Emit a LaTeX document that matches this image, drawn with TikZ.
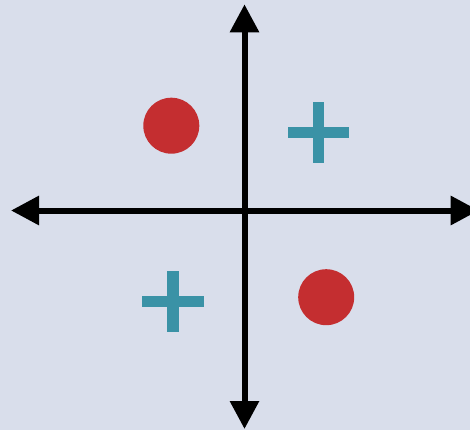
\documentclass[tikz,border=0pt]{standalone}
\usetikzlibrary{arrows.meta}
\definecolor{bgc}{RGB}{217,222,235}
\definecolor{redc}{RGB}{196,46,48}
\definecolor{tealc}{RGB}{58,146,166}
\tikzset{
  axis/.style={line width=6pt, {Triangle[length=28pt,width=28pt]}-{Triangle[length=28pt,width=28pt]}},
  dot/.style={circle, fill=redc, minimum size=56pt, inner sep=0pt, draw=none},
  bar/.style={fill=tealc, draw=none}
}
\newcommand{\plussign}[2]{%
  \fill[bar] (#1-30.8,#2-5.8) rectangle (#1+30.8,#2+5.8);
  \fill[bar] (#1-5.8,#2-30.8) rectangle (#1+5.8,#2+30.8);}
\begin{document}
\begin{tikzpicture}[x=1pt,y=-1pt]
\fill[bgc] (0,0) rectangle (470,430);
\useasboundingbox (0,0) rectangle (470,430);
\coordinate (L) at (11,210.5);
\coordinate (R) at (478.7,210.5);
\coordinate (T) at (244.5,4.3);
\coordinate (B) at (244.5,429);
\draw[axis] (L) -- (R);
\draw[axis] (T) -- (B);
\node[dot] (c1) at (171.3,125.7) {};
\node[dot] (c2) at (326.2,297.2) {};
\plussign{318.5}{132.5}
\plussign{172.7}{301.3}
\end{tikzpicture}
\end{document}
